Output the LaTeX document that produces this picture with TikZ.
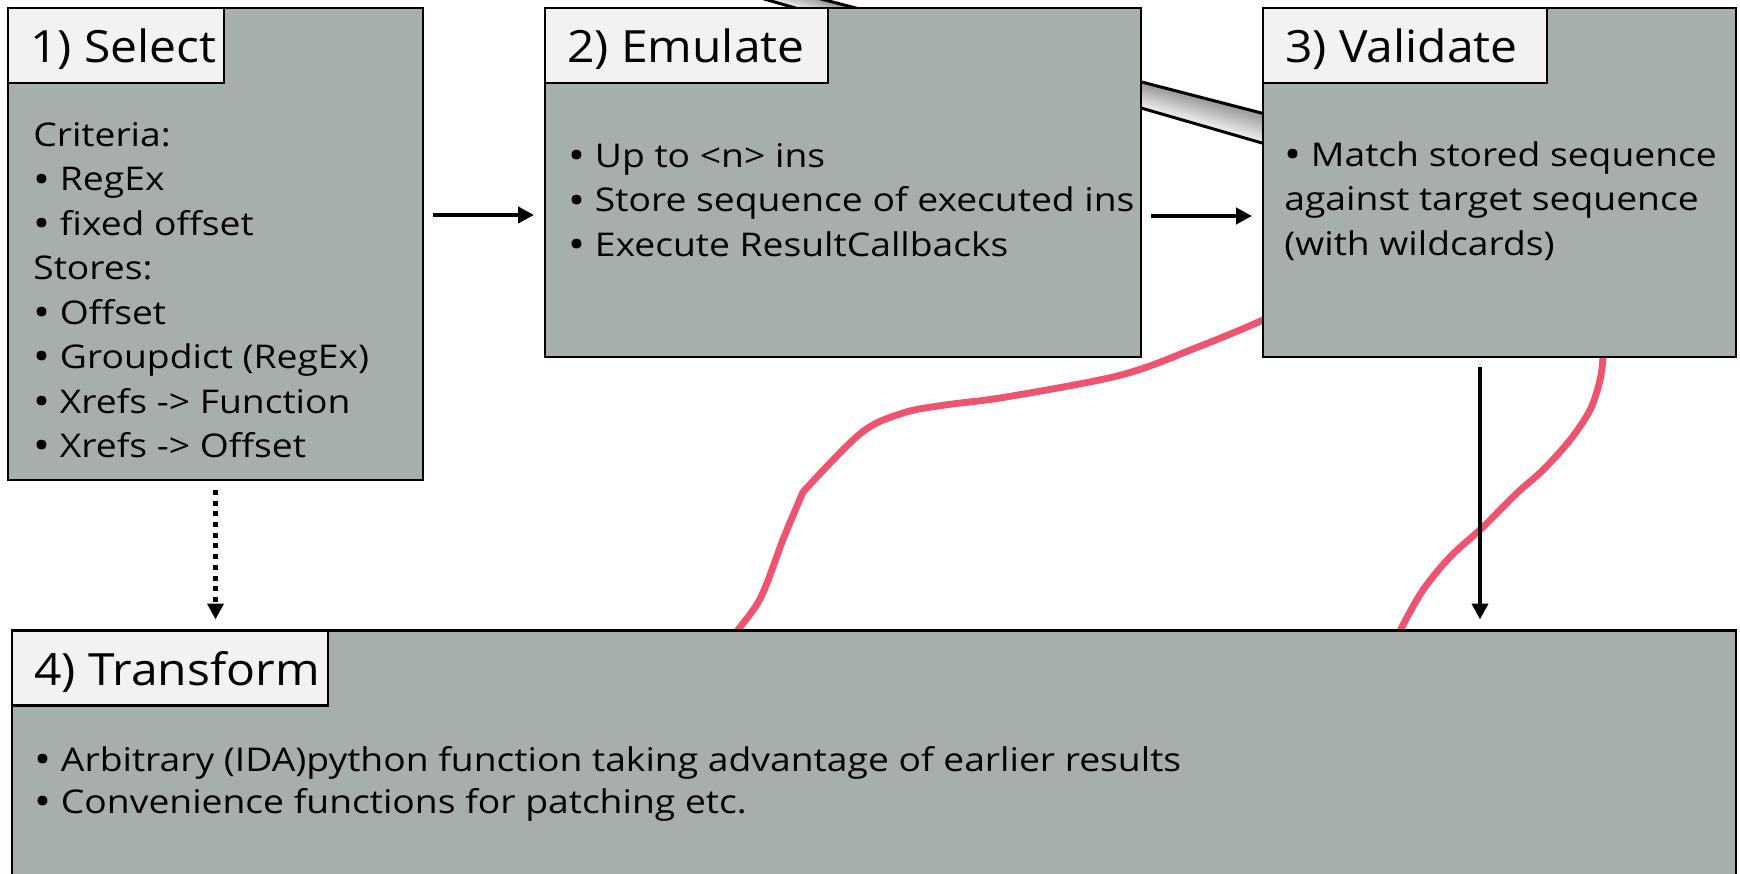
\documentclass[tikz,border=0pt]{standalone}
\usepackage{fontspec}
\setmainfont{Open Sans}[FakeStretch=1.14]
\newfontfamily\headfont{Open Sans}[FakeStretch=1.08]
\usetikzlibrary{arrows.meta,calc}

\definecolor{stagegray}{HTML}{A7AFAD}
\definecolor{taggray}{HTML}{F2F2F2}
\definecolor{trace}{HTML}{EE5470}

\newcommand{\bul}{\raisebox{-0.07em}{\fontsize{22.5}{22.5}\selectfont\textbullet}\ }

\pgfdeclarelayer{background}
\pgfsetlayers{background,main}

\begin{document}
\begin{tikzpicture}[x=0.02cm, y=-0.02cm]
\useasboundingbox (0,0) rectangle (1740,874);

\begin{scope}[every node/.style={rectangle,draw=black,line width=1.2pt,fill=stagegray,inner sep=0pt}]
	\node[minimum width=8.3cm, minimum height=9.44cm] (S) at (215.5,244) {};
	\node[minimum width=11.92cm, minimum height=6.98cm] (E) at (843,182.5) {};
	\node[minimum width=9.46cm, minimum height=6.98cm] (V) at (1499.5,182.5) {};
	\node[minimum width=34.48cm, minimum height=6.38cm] (T) at (874,790) {};
\end{scope}

\begin{scope}[every node/.style={rectangle,draw=black,line width=1.2pt,fill=taggray,anchor=north west,minimum height=1.5cm,inner xsep=0.44cm,inner ysep=0pt,text depth=0pt,font=\headfont\fontsize{25.3}{30}\selectfont}]
	\node (St) at (S.north west) {\makebox[3.44cm][l]{1) Select}};
	\node (Et) at (E.north west) {\makebox[4.78cm][l]{2) Emulate}};
	\node (Vt) at (V.north west) {\makebox[4.8cm][l]{3) Validate}};
	\node (Tt) at (T.north west) {\makebox[5.44cm][l]{4) Transform}};
\end{scope}

\begin{scope}[every node/.style={anchor=north west,inner sep=0pt,align=left,font=\fontsize{18.6}{25.3}\selectfont}]
	\node (Sb) at (33,122) {Criteria:\\\bul RegEx\\\bul fixed offset\\Stores:\\\bul Offset\\\bul Groupdict (RegEx)\\\bul Xrefs -> Function\\\bul Xrefs -> Offset};
	\node (Eb) at (568,143) {\bul Up to <n> ins\\\bul Store sequence of executed ins\\\bul Execute ResultCallbacks};
	\node (Vb) at (1284,141) {\bul Match stored sequence\\against target sequence\\(with wildcards)};
	\node[font=\fontsize{18.6}{23.9}\selectfont] (Tb) at (34,746) {\bul Arbitrary (IDA)python function taking advantage of earlier results\\\bul Convenience functions for patching etc.};
\end{scope}

\begin{scope}[every edge/.style={draw=black,line width=2.3pt,shorten <=0.18cm,shorten >=0.2cm}]
	\path [-{Triangle[length=9pt,width=9pt]}] (S.east |- 0,215) edge (E.west |- 0,215);
	\path [-{Triangle[length=9pt,width=9pt]}] (E.east |- 0,216) edge (V.west |- 0,216);
	\path [-{Triangle[length=9pt,width=9pt]}] (1480,0 |- V.south) edge (1480,0 |- T.north);
	\path [-{Triangle[length=9pt,width=9pt]}] (S.south) edge [line width=2.8pt,dash pattern=on 0.1cm off 0.114cm] (S.south |- T.north);
\end{scope}

\begin{pgfonlayer}{background}
	\fill[white] (0,0) rectangle (1740,874);
	\coordinate (bu1) at (740,-22);
	\coordinate (bu2) at (1300,123);
	\coordinate (bl1) at (740,-8);
	\coordinate (bl2) at (1300,154);
	\foreach \k in {0,...,11}{
		\pgfmathsetmacro\shadeval{40-3*\k}
		\fill[black!\shadeval] ($(bu1)!\k/12!(bl1)$) -- ($(bu2)!\k/12!(bl2)$) -- (bl2) -- (bl1) -- cycle;
	}
	\draw[line width=1.7pt] (bu1) -- (bu2) (bl1) -- (bl2);

	\begin{scope}[trace,line width=3.9pt,line cap=round]
		\draw plot[smooth,tension=0.55] coordinates {(1290,305) (1263,320) (1198,347) (1121,375) (1006,397) (945,405) (903,413) (861,433) (803,492)};
		\draw plot[smooth,tension=0.55] coordinates {(803,492) (784,537) (761,597) (738,630) (725,650)};
		\draw plot[smooth,tension=0.55] coordinates {(1604,335) (1603,357) (1600,380) (1590,410) (1570,440) (1543,470) (1517,493) (1483,527) (1450,557) (1423,590) (1402,627) (1395,645)};
	\end{scope}
\end{pgfonlayer}
\end{tikzpicture}
\end{document}
